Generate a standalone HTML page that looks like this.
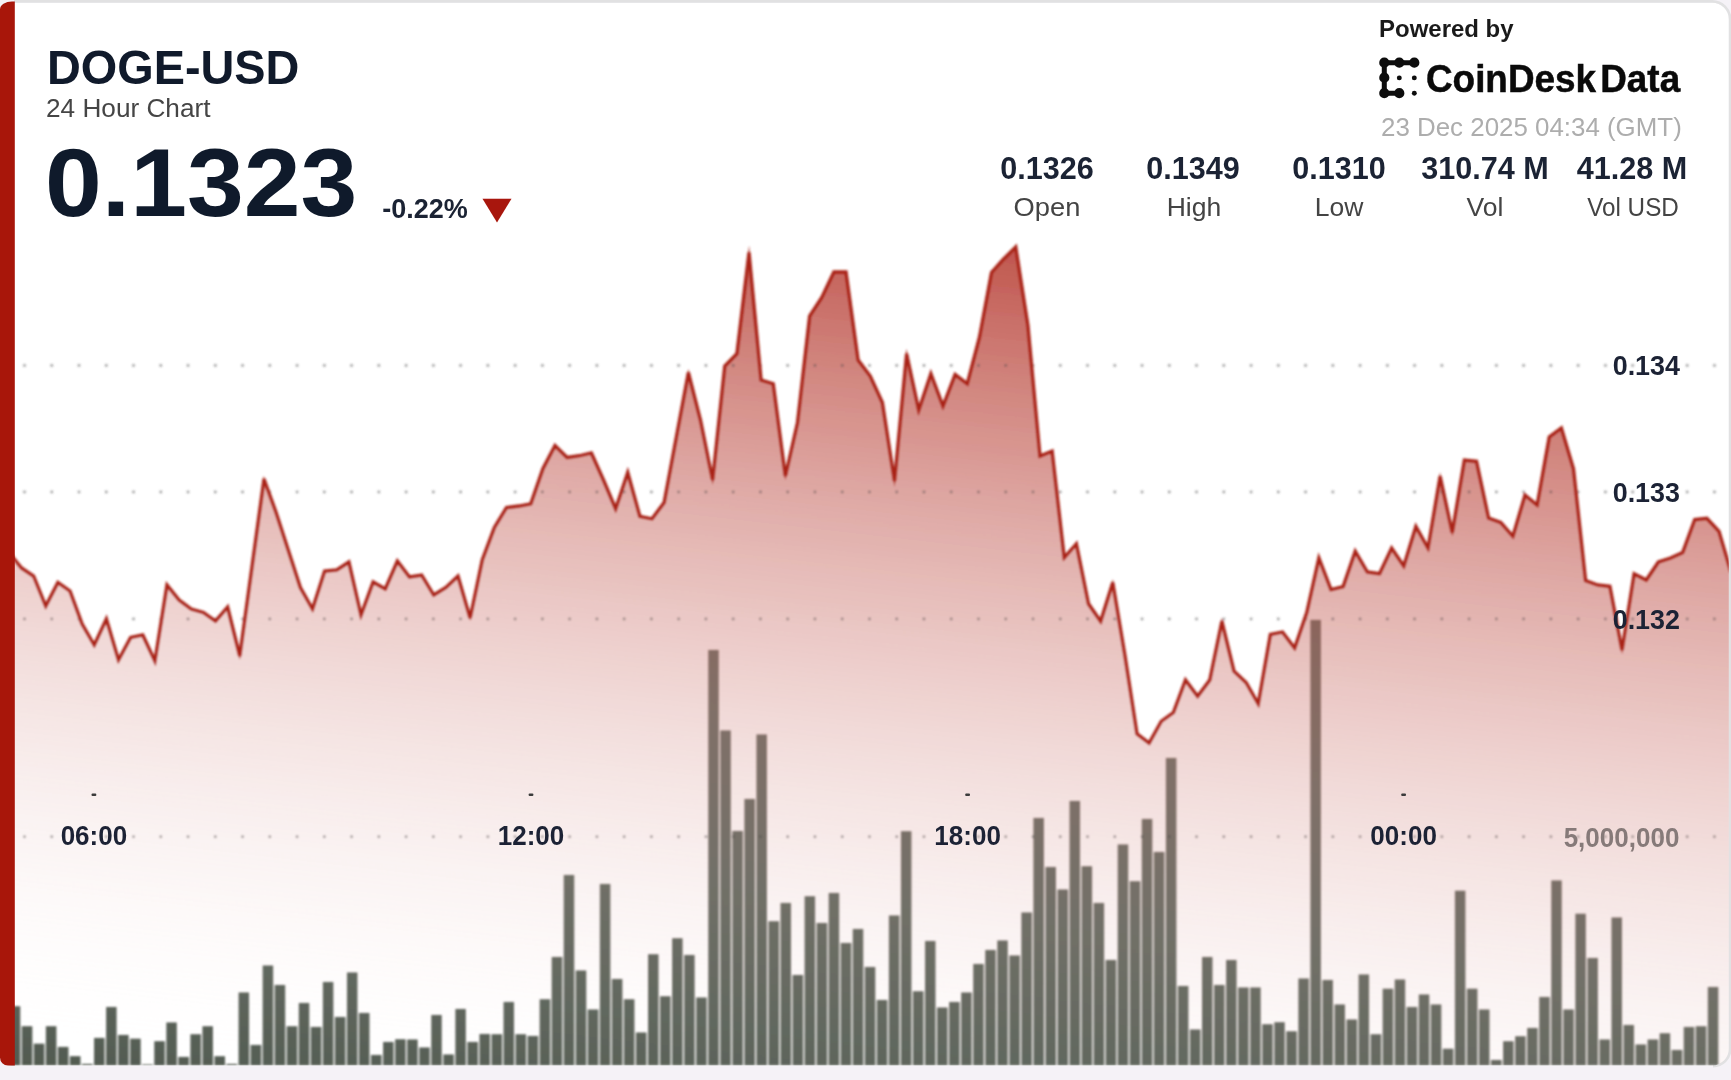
<!DOCTYPE html>
<html><head><meta charset="utf-8"><title>DOGE-USD</title>
<style>
html,body{margin:0;padding:0;}
body{width:1731px;height:1080px;overflow:hidden;background:#f5f2f7;font-family:"Liberation Sans",sans-serif;position:relative;}
#card{position:absolute;left:0;top:2px;width:1731px;height:1078px;filter:blur(0.55px);}
svg{position:absolute;left:0;top:0;}
#chart{filter:url(#bl);}
.t{position:absolute;white-space:nowrap;line-height:1;}
.ax{font-family:"Liberation Sans",sans-serif;font-weight:bold;font-size:27.6px;fill:#1b2334;}
.b{font-weight:bold;}
.stat{position:absolute;width:160px;text-align:center;white-space:nowrap;line-height:1;}
.sv{top:150px;font-weight:bold;font-size:32.2px;color:#1b2334;transform:scaleX(0.95);}
.sl{top:191.8px;font-size:26.5px;color:#444;transform:scaleX(1.0);}
</style></head><body>
<svg width="1731" height="1080" viewBox="0 0 1731 1080">
<defs>
<linearGradient id="ga" gradientUnits="userSpaceOnUse" x1="1000.0" y1="200.0" x2="888.20" y2="1172.14"><stop offset="0.000" stop-color="rgb(168,22,10)" stop-opacity="0.8000"/><stop offset="0.050" stop-color="rgb(172,34,22)" stop-opacity="0.7600"/><stop offset="0.100" stop-color="rgb(177,45,34)" stop-opacity="0.7200"/><stop offset="0.150" stop-color="rgb(181,57,47)" stop-opacity="0.6800"/><stop offset="0.200" stop-color="rgb(185,69,59)" stop-opacity="0.6400"/><stop offset="0.250" stop-color="rgb(190,80,71)" stop-opacity="0.6000"/><stop offset="0.300" stop-color="rgb(194,92,84)" stop-opacity="0.5600"/><stop offset="0.350" stop-color="rgb(198,104,96)" stop-opacity="0.5200"/><stop offset="0.400" stop-color="rgb(203,115,108)" stop-opacity="0.4800"/><stop offset="0.450" stop-color="rgb(207,127,120)" stop-opacity="0.4400"/><stop offset="0.500" stop-color="rgb(212,138,132)" stop-opacity="0.4000"/><stop offset="0.550" stop-color="rgb(216,150,145)" stop-opacity="0.3600"/><stop offset="0.600" stop-color="rgb(220,162,157)" stop-opacity="0.3200"/><stop offset="0.650" stop-color="rgb(225,173,169)" stop-opacity="0.2800"/><stop offset="0.700" stop-color="rgb(229,185,182)" stop-opacity="0.2400"/><stop offset="0.750" stop-color="rgb(233,197,194)" stop-opacity="0.2000"/><stop offset="0.800" stop-color="rgb(238,208,206)" stop-opacity="0.1600"/><stop offset="0.850" stop-color="rgb(242,220,218)" stop-opacity="0.1200"/><stop offset="0.900" stop-color="rgb(246,232,230)" stop-opacity="0.0800"/><stop offset="0.950" stop-color="rgb(251,243,243)" stop-opacity="0.0400"/><stop offset="1.000" stop-color="rgb(255,255,255)" stop-opacity="0.0000"/></linearGradient>
<filter id="bl2" x="0" y="0" width="1731" height="1080" filterUnits="userSpaceOnUse"><feGaussianBlur stdDeviation="0.55"/></filter>
<filter id="bl" x="0" y="0" width="1731" height="1080" filterUnits="userSpaceOnUse"><feGaussianBlur stdDeviation="0.8"/></filter>
<clipPath id="cc"><path d="M8,2.7 L1712,2.7 A16.6,16.6 0 0 1 1728.8,19.5 L1728.8,1049 A16.5,16.5 0 0 1 1712.3,1065.5 L8,1065.5 L0,1057 L0,10 Z"/></clipPath>
</defs>
<path d="M8,2.7 L1712,2.7 A16.6,16.6 0 0 1 1728.8,19.5 L1728.8,1049 A16.5,16.5 0 0 1 1712.3,1065.5 L8,1065.5 L0,1057 L0,10 Z" fill="#fff"/>
<path d="M14,1.35 L1712,1.35 A18,18 0 0 1 1730.15,19.5 L1730.15,1049 A17.2,17.2 0 0 1 1713,1066.2" fill="none" stroke="#e1e1e2" stroke-width="2.7"/>
<g clip-path="url(#cc)"><g id="chart">
<g fill="#50594f"><rect x="9.71" y="1006.15" width="10.6" height="59.35"/><rect x="21.75" y="1026.15" width="10.6" height="39.35"/><rect x="33.79" y="1043.65" width="10.6" height="21.85"/><rect x="45.84" y="1026.15" width="10.6" height="39.35"/><rect x="57.88" y="1046.90" width="10.6" height="18.60"/><rect x="69.92" y="1056.15" width="10.6" height="9.35"/><rect x="81.97" y="1063.90" width="10.6" height="1.60"/><rect x="94.01" y="1037.90" width="10.6" height="27.60"/><rect x="106.05" y="1006.90" width="10.6" height="58.60"/><rect x="118.09" y="1034.90" width="10.6" height="30.60"/><rect x="130.14" y="1038.65" width="10.6" height="26.85"/><rect x="142.18" y="1064.40" width="10.6" height="1.10"/><rect x="154.22" y="1041.15" width="10.6" height="24.35"/><rect x="166.27" y="1022.40" width="10.6" height="43.10"/><rect x="178.31" y="1056.90" width="10.6" height="8.60"/><rect x="190.35" y="1034.15" width="10.6" height="31.35"/><rect x="202.39" y="1026.15" width="10.6" height="39.35"/><rect x="214.44" y="1056.15" width="10.6" height="9.35"/><rect x="226.48" y="1063.90" width="10.6" height="1.60"/><rect x="238.52" y="992.40" width="10.6" height="73.10"/><rect x="250.57" y="1044.90" width="10.6" height="20.60"/><rect x="262.61" y="965.40" width="10.6" height="100.10"/><rect x="274.65" y="984.90" width="10.6" height="80.60"/><rect x="286.70" y="1026.15" width="10.6" height="39.35"/><rect x="298.74" y="1002.90" width="10.6" height="62.60"/><rect x="310.78" y="1026.90" width="10.6" height="38.60"/><rect x="322.82" y="981.90" width="10.6" height="83.60"/><rect x="334.87" y="1016.90" width="10.6" height="48.60"/><rect x="346.91" y="972.40" width="10.6" height="93.10"/><rect x="358.95" y="1012.90" width="10.6" height="52.60"/><rect x="371.00" y="1054.90" width="10.6" height="10.60"/><rect x="383.04" y="1041.90" width="10.6" height="23.60"/><rect x="395.08" y="1039.15" width="10.6" height="26.35"/><rect x="407.13" y="1039.40" width="10.6" height="26.10"/><rect x="419.17" y="1047.40" width="10.6" height="18.10"/><rect x="431.21" y="1014.90" width="10.6" height="50.60"/><rect x="443.25" y="1054.40" width="10.6" height="11.10"/><rect x="455.30" y="1008.90" width="10.6" height="56.60"/><rect x="467.34" y="1041.90" width="10.6" height="23.60"/><rect x="479.38" y="1033.90" width="10.6" height="31.60"/><rect x="491.43" y="1034.15" width="10.6" height="31.35"/><rect x="503.47" y="1001.90" width="10.6" height="63.60"/><rect x="515.51" y="1034.15" width="10.6" height="31.35"/><rect x="527.56" y="1035.90" width="10.6" height="29.60"/><rect x="539.60" y="999.15" width="10.6" height="66.35"/><rect x="551.64" y="956.90" width="10.6" height="108.60"/><rect x="563.68" y="874.90" width="10.6" height="190.60"/><rect x="575.73" y="970.40" width="10.6" height="95.10"/><rect x="587.77" y="1009.40" width="10.6" height="56.10"/><rect x="599.81" y="883.90" width="10.6" height="181.60"/><rect x="611.86" y="978.90" width="10.6" height="86.60"/><rect x="623.90" y="999.15" width="10.6" height="66.35"/><rect x="635.94" y="1032.40" width="10.6" height="33.10"/><rect x="647.99" y="954.15" width="10.6" height="111.35"/><rect x="660.03" y="996.15" width="10.6" height="69.35"/><rect x="672.07" y="938.15" width="10.6" height="127.35"/><rect x="684.12" y="954.90" width="10.6" height="110.60"/><rect x="696.16" y="997.40" width="10.6" height="68.10"/><rect x="708.20" y="649.90" width="10.6" height="415.60"/><rect x="720.24" y="730.40" width="10.6" height="335.10"/><rect x="732.29" y="830.90" width="10.6" height="234.60"/><rect x="744.33" y="798.90" width="10.6" height="266.60"/><rect x="756.37" y="734.40" width="10.6" height="331.10"/><rect x="768.42" y="921.15" width="10.6" height="144.35"/><rect x="780.46" y="902.90" width="10.6" height="162.60"/><rect x="792.50" y="974.90" width="10.6" height="90.60"/><rect x="804.54" y="896.15" width="10.6" height="169.35"/><rect x="816.59" y="922.90" width="10.6" height="142.60"/><rect x="828.63" y="892.90" width="10.6" height="172.60"/><rect x="840.67" y="942.90" width="10.6" height="122.60"/><rect x="852.72" y="928.90" width="10.6" height="136.60"/><rect x="864.76" y="966.90" width="10.6" height="98.60"/><rect x="876.80" y="999.90" width="10.6" height="65.60"/><rect x="888.85" y="915.40" width="10.6" height="150.10"/><rect x="900.89" y="831.15" width="10.6" height="234.35"/><rect x="912.93" y="991.15" width="10.6" height="74.35"/><rect x="924.97" y="940.90" width="10.6" height="124.60"/><rect x="937.02" y="1007.40" width="10.6" height="58.10"/><rect x="949.06" y="1001.90" width="10.6" height="63.60"/><rect x="961.10" y="992.40" width="10.6" height="73.10"/><rect x="973.15" y="963.90" width="10.6" height="101.60"/><rect x="985.19" y="949.90" width="10.6" height="115.60"/><rect x="997.23" y="940.40" width="10.6" height="125.10"/><rect x="1009.28" y="955.40" width="10.6" height="110.10"/><rect x="1021.32" y="912.40" width="10.6" height="153.10"/><rect x="1033.36" y="817.90" width="10.6" height="247.60"/><rect x="1045.40" y="866.90" width="10.6" height="198.60"/><rect x="1057.45" y="889.40" width="10.6" height="176.10"/><rect x="1069.49" y="800.90" width="10.6" height="264.60"/><rect x="1081.53" y="866.15" width="10.6" height="199.35"/><rect x="1093.58" y="902.90" width="10.6" height="162.60"/><rect x="1105.62" y="959.90" width="10.6" height="105.60"/><rect x="1117.66" y="844.40" width="10.6" height="221.10"/><rect x="1129.71" y="881.15" width="10.6" height="184.35"/><rect x="1141.75" y="818.90" width="10.6" height="246.60"/><rect x="1153.79" y="851.90" width="10.6" height="213.60"/><rect x="1165.84" y="757.90" width="10.6" height="307.60"/><rect x="1177.88" y="985.90" width="10.6" height="79.60"/><rect x="1189.92" y="1029.40" width="10.6" height="36.10"/><rect x="1201.96" y="956.90" width="10.6" height="108.60"/><rect x="1214.01" y="984.90" width="10.6" height="80.60"/><rect x="1226.05" y="959.90" width="10.6" height="105.60"/><rect x="1238.09" y="987.40" width="10.6" height="78.10"/><rect x="1250.14" y="987.40" width="10.6" height="78.10"/><rect x="1262.18" y="1024.15" width="10.6" height="41.35"/><rect x="1274.22" y="1022.10" width="10.6" height="43.40"/><rect x="1286.26" y="1031.20" width="10.6" height="34.30"/><rect x="1298.31" y="978.40" width="10.6" height="87.10"/><rect x="1310.35" y="619.90" width="10.6" height="445.60"/><rect x="1322.39" y="979.90" width="10.6" height="85.60"/><rect x="1334.44" y="1004.40" width="10.6" height="61.10"/><rect x="1346.48" y="1019.40" width="10.6" height="46.10"/><rect x="1358.52" y="974.40" width="10.6" height="91.10"/><rect x="1370.57" y="1034.15" width="10.6" height="31.35"/><rect x="1382.61" y="988.65" width="10.6" height="76.85"/><rect x="1394.65" y="979.40" width="10.6" height="86.10"/><rect x="1406.69" y="1006.90" width="10.6" height="58.60"/><rect x="1418.74" y="994.40" width="10.6" height="71.10"/><rect x="1430.78" y="1004.40" width="10.6" height="61.10"/><rect x="1442.82" y="1048.65" width="10.6" height="16.85"/><rect x="1454.87" y="890.65" width="10.6" height="174.85"/><rect x="1466.91" y="988.65" width="10.6" height="76.85"/><rect x="1478.95" y="1009.40" width="10.6" height="56.10"/><rect x="1491.00" y="1059.90" width="10.6" height="5.60"/><rect x="1503.04" y="1041.15" width="10.6" height="24.35"/><rect x="1515.08" y="1036.15" width="10.6" height="29.35"/><rect x="1527.12" y="1027.90" width="10.6" height="37.60"/><rect x="1539.17" y="996.90" width="10.6" height="68.60"/><rect x="1551.21" y="880.40" width="10.6" height="185.10"/><rect x="1563.25" y="1009.40" width="10.6" height="56.10"/><rect x="1575.30" y="913.65" width="10.6" height="151.85"/><rect x="1587.34" y="957.90" width="10.6" height="107.60"/><rect x="1599.38" y="1039.40" width="10.6" height="26.10"/><rect x="1611.43" y="917.40" width="10.6" height="148.10"/><rect x="1623.47" y="1024.90" width="10.6" height="40.60"/><rect x="1635.51" y="1044.40" width="10.6" height="21.10"/><rect x="1647.55" y="1039.40" width="10.6" height="26.10"/><rect x="1659.60" y="1033.15" width="10.6" height="32.35"/><rect x="1671.64" y="1049.90" width="10.6" height="15.60"/><rect x="1683.68" y="1026.90" width="10.6" height="38.60"/><rect x="1695.73" y="1026.15" width="10.6" height="39.35"/><rect x="1707.77" y="986.90" width="10.6" height="78.60"/></g>
<path d="M9.38,553.00 L21.50,568.00 L33.62,576.00 L45.75,606.00 L57.88,582.50 L70.00,591.00 L82.12,624.00 L94.25,645.00 L106.38,619.00 L118.50,660.00 L130.62,637.50 L142.75,635.00 L154.88,661.00 L167.00,585.00 L179.12,600.00 L191.25,609.00 L203.38,612.50 L215.50,621.00 L227.62,607.00 L239.75,656.00 L251.88,567.50 L264.00,479.00 L276.12,512.50 L288.25,550.00 L300.38,587.50 L312.50,609.00 L324.62,571.00 L336.75,570.00 L348.88,562.00 L361.00,615.00 L373.12,582.00 L385.25,589.00 L397.38,561.00 L409.50,577.00 L421.62,575.00 L433.75,595.00 L445.88,587.50 L458.00,576.00 L470.12,618.00 L482.25,560.00 L494.38,527.50 L506.50,507.50 L518.62,506.00 L530.75,503.75 L542.88,468.75 L555.00,445.50 L567.12,457.50 L579.25,455.75 L591.38,453.00 L603.50,480.00 L615.62,508.75 L627.75,472.50 L639.88,516.25 L652.00,518.75 L664.12,502.50 L676.25,437.50 L688.38,372.50 L700.50,420.00 L712.62,480.00 L724.75,366.00 L736.88,353.75 L749.00,252.50 L761.12,380.00 L773.25,383.75 L785.38,476.00 L797.50,422.50 L809.62,316.00 L821.75,297.50 L833.88,272.00 L846.00,272.00 L858.12,360.00 L870.25,376.00 L882.38,402.50 L894.50,481.00 L906.62,353.75 L918.75,410.00 L930.88,373.75 L943.00,406.00 L955.12,374.50 L967.25,383.75 L979.38,337.50 L991.50,272.50 L1003.62,259.00 L1015.75,247.00 L1027.88,325.00 L1040.00,456.00 L1052.12,451.00 L1064.25,557.50 L1076.38,543.75 L1088.50,603.75 L1100.62,621.25 L1112.75,582.50 L1124.88,655.00 L1137.00,733.75 L1149.12,743.00 L1161.25,721.25 L1173.38,712.50 L1185.50,680.00 L1197.62,696.25 L1209.75,680.00 L1221.88,621.25 L1234.00,671.25 L1246.12,682.50 L1258.25,703.75 L1270.38,634.50 L1282.50,632.00 L1294.62,648.00 L1306.75,612.50 L1318.88,558.00 L1331.00,589.50 L1343.12,586.50 L1355.25,551.25 L1367.38,572.00 L1379.50,573.75 L1391.62,548.00 L1403.75,566.00 L1415.88,526.50 L1428.00,548.00 L1440.12,476.25 L1452.25,532.50 L1464.38,460.00 L1476.50,461.25 L1488.62,518.00 L1500.75,522.50 L1512.88,536.25 L1525.00,495.00 L1537.12,505.00 L1549.25,437.00 L1561.38,428.00 L1573.50,468.75 L1585.62,580.50 L1597.75,585.00 L1609.88,586.25 L1622.00,650.00 L1634.12,573.75 L1646.25,580.00 L1658.38,562.00 L1670.50,558.00 L1682.62,552.50 L1694.75,519.50 L1706.88,518.25 L1719.00,531.25 L1731.12,572.50 L1731.12,1065.5 L9.38,1065.5 Z" fill="url(#ga)"/>
<g fill="#4a4a4a" fill-opacity="0.5"><circle cx="24.50" cy="365.5" r="1.45"/><circle cx="51.76" cy="365.5" r="1.45"/><circle cx="79.01" cy="365.5" r="1.45"/><circle cx="106.27" cy="365.5" r="1.45"/><circle cx="133.53" cy="365.5" r="1.45"/><circle cx="160.78" cy="365.5" r="1.45"/><circle cx="188.04" cy="365.5" r="1.45"/><circle cx="215.30" cy="365.5" r="1.45"/><circle cx="242.56" cy="365.5" r="1.45"/><circle cx="269.81" cy="365.5" r="1.45"/><circle cx="297.07" cy="365.5" r="1.45"/><circle cx="324.33" cy="365.5" r="1.45"/><circle cx="351.58" cy="365.5" r="1.45"/><circle cx="378.84" cy="365.5" r="1.45"/><circle cx="406.10" cy="365.5" r="1.45"/><circle cx="433.36" cy="365.5" r="1.45"/><circle cx="460.61" cy="365.5" r="1.45"/><circle cx="487.87" cy="365.5" r="1.45"/><circle cx="515.13" cy="365.5" r="1.45"/><circle cx="542.38" cy="365.5" r="1.45"/><circle cx="569.64" cy="365.5" r="1.45"/><circle cx="596.90" cy="365.5" r="1.45"/><circle cx="624.15" cy="365.5" r="1.45"/><circle cx="651.41" cy="365.5" r="1.45"/><circle cx="678.67" cy="365.5" r="1.45"/><circle cx="705.93" cy="365.5" r="1.45"/><circle cx="733.18" cy="365.5" r="1.45"/><circle cx="760.44" cy="365.5" r="1.45"/><circle cx="787.70" cy="365.5" r="1.45"/><circle cx="814.95" cy="365.5" r="1.45"/><circle cx="842.21" cy="365.5" r="1.45"/><circle cx="869.47" cy="365.5" r="1.45"/><circle cx="896.72" cy="365.5" r="1.45"/><circle cx="923.98" cy="365.5" r="1.45"/><circle cx="951.24" cy="365.5" r="1.45"/><circle cx="978.50" cy="365.5" r="1.45"/><circle cx="1005.75" cy="365.5" r="1.45"/><circle cx="1033.01" cy="365.5" r="1.45"/><circle cx="1060.27" cy="365.5" r="1.45"/><circle cx="1087.52" cy="365.5" r="1.45"/><circle cx="1114.78" cy="365.5" r="1.45"/><circle cx="1142.04" cy="365.5" r="1.45"/><circle cx="1169.29" cy="365.5" r="1.45"/><circle cx="1196.55" cy="365.5" r="1.45"/><circle cx="1223.81" cy="365.5" r="1.45"/><circle cx="1251.07" cy="365.5" r="1.45"/><circle cx="1278.32" cy="365.5" r="1.45"/><circle cx="1305.58" cy="365.5" r="1.45"/><circle cx="1332.84" cy="365.5" r="1.45"/><circle cx="1360.09" cy="365.5" r="1.45"/><circle cx="1387.35" cy="365.5" r="1.45"/><circle cx="1414.61" cy="365.5" r="1.45"/><circle cx="1441.86" cy="365.5" r="1.45"/><circle cx="1469.12" cy="365.5" r="1.45"/><circle cx="1496.38" cy="365.5" r="1.45"/><circle cx="1523.63" cy="365.5" r="1.45"/><circle cx="1550.89" cy="365.5" r="1.45"/><circle cx="1578.15" cy="365.5" r="1.45"/><circle cx="1605.41" cy="365.5" r="1.45"/><circle cx="1632.66" cy="365.5" r="1.45"/><circle cx="1659.92" cy="365.5" r="1.45"/><circle cx="1687.18" cy="365.5" r="1.45"/><circle cx="1714.43" cy="365.5" r="1.45"/><circle cx="24.50" cy="492" r="1.45"/><circle cx="51.76" cy="492" r="1.45"/><circle cx="79.01" cy="492" r="1.45"/><circle cx="106.27" cy="492" r="1.45"/><circle cx="133.53" cy="492" r="1.45"/><circle cx="160.78" cy="492" r="1.45"/><circle cx="188.04" cy="492" r="1.45"/><circle cx="215.30" cy="492" r="1.45"/><circle cx="242.56" cy="492" r="1.45"/><circle cx="269.81" cy="492" r="1.45"/><circle cx="297.07" cy="492" r="1.45"/><circle cx="324.33" cy="492" r="1.45"/><circle cx="351.58" cy="492" r="1.45"/><circle cx="378.84" cy="492" r="1.45"/><circle cx="406.10" cy="492" r="1.45"/><circle cx="433.36" cy="492" r="1.45"/><circle cx="460.61" cy="492" r="1.45"/><circle cx="487.87" cy="492" r="1.45"/><circle cx="515.13" cy="492" r="1.45"/><circle cx="542.38" cy="492" r="1.45"/><circle cx="569.64" cy="492" r="1.45"/><circle cx="596.90" cy="492" r="1.45"/><circle cx="624.15" cy="492" r="1.45"/><circle cx="651.41" cy="492" r="1.45"/><circle cx="678.67" cy="492" r="1.45"/><circle cx="705.93" cy="492" r="1.45"/><circle cx="733.18" cy="492" r="1.45"/><circle cx="760.44" cy="492" r="1.45"/><circle cx="787.70" cy="492" r="1.45"/><circle cx="814.95" cy="492" r="1.45"/><circle cx="842.21" cy="492" r="1.45"/><circle cx="869.47" cy="492" r="1.45"/><circle cx="896.72" cy="492" r="1.45"/><circle cx="923.98" cy="492" r="1.45"/><circle cx="951.24" cy="492" r="1.45"/><circle cx="978.50" cy="492" r="1.45"/><circle cx="1005.75" cy="492" r="1.45"/><circle cx="1033.01" cy="492" r="1.45"/><circle cx="1060.27" cy="492" r="1.45"/><circle cx="1087.52" cy="492" r="1.45"/><circle cx="1114.78" cy="492" r="1.45"/><circle cx="1142.04" cy="492" r="1.45"/><circle cx="1169.29" cy="492" r="1.45"/><circle cx="1196.55" cy="492" r="1.45"/><circle cx="1223.81" cy="492" r="1.45"/><circle cx="1251.07" cy="492" r="1.45"/><circle cx="1278.32" cy="492" r="1.45"/><circle cx="1305.58" cy="492" r="1.45"/><circle cx="1332.84" cy="492" r="1.45"/><circle cx="1360.09" cy="492" r="1.45"/><circle cx="1387.35" cy="492" r="1.45"/><circle cx="1414.61" cy="492" r="1.45"/><circle cx="1441.86" cy="492" r="1.45"/><circle cx="1469.12" cy="492" r="1.45"/><circle cx="1496.38" cy="492" r="1.45"/><circle cx="1523.63" cy="492" r="1.45"/><circle cx="1550.89" cy="492" r="1.45"/><circle cx="1578.15" cy="492" r="1.45"/><circle cx="1605.41" cy="492" r="1.45"/><circle cx="1632.66" cy="492" r="1.45"/><circle cx="1659.92" cy="492" r="1.45"/><circle cx="1687.18" cy="492" r="1.45"/><circle cx="1714.43" cy="492" r="1.45"/><circle cx="24.50" cy="619" r="1.45"/><circle cx="51.76" cy="619" r="1.45"/><circle cx="79.01" cy="619" r="1.45"/><circle cx="106.27" cy="619" r="1.45"/><circle cx="133.53" cy="619" r="1.45"/><circle cx="160.78" cy="619" r="1.45"/><circle cx="188.04" cy="619" r="1.45"/><circle cx="215.30" cy="619" r="1.45"/><circle cx="242.56" cy="619" r="1.45"/><circle cx="269.81" cy="619" r="1.45"/><circle cx="297.07" cy="619" r="1.45"/><circle cx="324.33" cy="619" r="1.45"/><circle cx="351.58" cy="619" r="1.45"/><circle cx="378.84" cy="619" r="1.45"/><circle cx="406.10" cy="619" r="1.45"/><circle cx="433.36" cy="619" r="1.45"/><circle cx="460.61" cy="619" r="1.45"/><circle cx="487.87" cy="619" r="1.45"/><circle cx="515.13" cy="619" r="1.45"/><circle cx="542.38" cy="619" r="1.45"/><circle cx="569.64" cy="619" r="1.45"/><circle cx="596.90" cy="619" r="1.45"/><circle cx="624.15" cy="619" r="1.45"/><circle cx="651.41" cy="619" r="1.45"/><circle cx="678.67" cy="619" r="1.45"/><circle cx="705.93" cy="619" r="1.45"/><circle cx="733.18" cy="619" r="1.45"/><circle cx="760.44" cy="619" r="1.45"/><circle cx="787.70" cy="619" r="1.45"/><circle cx="814.95" cy="619" r="1.45"/><circle cx="842.21" cy="619" r="1.45"/><circle cx="869.47" cy="619" r="1.45"/><circle cx="896.72" cy="619" r="1.45"/><circle cx="923.98" cy="619" r="1.45"/><circle cx="951.24" cy="619" r="1.45"/><circle cx="978.50" cy="619" r="1.45"/><circle cx="1005.75" cy="619" r="1.45"/><circle cx="1033.01" cy="619" r="1.45"/><circle cx="1060.27" cy="619" r="1.45"/><circle cx="1087.52" cy="619" r="1.45"/><circle cx="1114.78" cy="619" r="1.45"/><circle cx="1142.04" cy="619" r="1.45"/><circle cx="1169.29" cy="619" r="1.45"/><circle cx="1196.55" cy="619" r="1.45"/><circle cx="1223.81" cy="619" r="1.45"/><circle cx="1251.07" cy="619" r="1.45"/><circle cx="1278.32" cy="619" r="1.45"/><circle cx="1305.58" cy="619" r="1.45"/><circle cx="1332.84" cy="619" r="1.45"/><circle cx="1360.09" cy="619" r="1.45"/><circle cx="1387.35" cy="619" r="1.45"/><circle cx="1414.61" cy="619" r="1.45"/><circle cx="1441.86" cy="619" r="1.45"/><circle cx="1469.12" cy="619" r="1.45"/><circle cx="1496.38" cy="619" r="1.45"/><circle cx="1523.63" cy="619" r="1.45"/><circle cx="1550.89" cy="619" r="1.45"/><circle cx="1578.15" cy="619" r="1.45"/><circle cx="1605.41" cy="619" r="1.45"/><circle cx="1632.66" cy="619" r="1.45"/><circle cx="1659.92" cy="619" r="1.45"/><circle cx="1687.18" cy="619" r="1.45"/><circle cx="1714.43" cy="619" r="1.45"/><circle cx="24.50" cy="836.7" r="1.45"/><circle cx="51.76" cy="836.7" r="1.45"/><circle cx="79.01" cy="836.7" r="1.45"/><circle cx="106.27" cy="836.7" r="1.45"/><circle cx="133.53" cy="836.7" r="1.45"/><circle cx="160.78" cy="836.7" r="1.45"/><circle cx="188.04" cy="836.7" r="1.45"/><circle cx="215.30" cy="836.7" r="1.45"/><circle cx="242.56" cy="836.7" r="1.45"/><circle cx="269.81" cy="836.7" r="1.45"/><circle cx="297.07" cy="836.7" r="1.45"/><circle cx="324.33" cy="836.7" r="1.45"/><circle cx="351.58" cy="836.7" r="1.45"/><circle cx="378.84" cy="836.7" r="1.45"/><circle cx="406.10" cy="836.7" r="1.45"/><circle cx="433.36" cy="836.7" r="1.45"/><circle cx="460.61" cy="836.7" r="1.45"/><circle cx="487.87" cy="836.7" r="1.45"/><circle cx="515.13" cy="836.7" r="1.45"/><circle cx="542.38" cy="836.7" r="1.45"/><circle cx="569.64" cy="836.7" r="1.45"/><circle cx="596.90" cy="836.7" r="1.45"/><circle cx="624.15" cy="836.7" r="1.45"/><circle cx="651.41" cy="836.7" r="1.45"/><circle cx="678.67" cy="836.7" r="1.45"/><circle cx="705.93" cy="836.7" r="1.45"/><circle cx="733.18" cy="836.7" r="1.45"/><circle cx="760.44" cy="836.7" r="1.45"/><circle cx="787.70" cy="836.7" r="1.45"/><circle cx="814.95" cy="836.7" r="1.45"/><circle cx="842.21" cy="836.7" r="1.45"/><circle cx="869.47" cy="836.7" r="1.45"/><circle cx="896.72" cy="836.7" r="1.45"/><circle cx="923.98" cy="836.7" r="1.45"/><circle cx="951.24" cy="836.7" r="1.45"/><circle cx="978.50" cy="836.7" r="1.45"/><circle cx="1005.75" cy="836.7" r="1.45"/><circle cx="1033.01" cy="836.7" r="1.45"/><circle cx="1060.27" cy="836.7" r="1.45"/><circle cx="1087.52" cy="836.7" r="1.45"/><circle cx="1114.78" cy="836.7" r="1.45"/><circle cx="1142.04" cy="836.7" r="1.45"/><circle cx="1169.29" cy="836.7" r="1.45"/><circle cx="1196.55" cy="836.7" r="1.45"/><circle cx="1223.81" cy="836.7" r="1.45"/><circle cx="1251.07" cy="836.7" r="1.45"/><circle cx="1278.32" cy="836.7" r="1.45"/><circle cx="1305.58" cy="836.7" r="1.45"/><circle cx="1332.84" cy="836.7" r="1.45"/><circle cx="1360.09" cy="836.7" r="1.45"/><circle cx="1387.35" cy="836.7" r="1.45"/><circle cx="1414.61" cy="836.7" r="1.45"/><circle cx="1441.86" cy="836.7" r="1.45"/><circle cx="1469.12" cy="836.7" r="1.45"/><circle cx="1496.38" cy="836.7" r="1.45"/><circle cx="1523.63" cy="836.7" r="1.45"/><circle cx="1550.89" cy="836.7" r="1.45"/><circle cx="1578.15" cy="836.7" r="1.45"/><circle cx="1605.41" cy="836.7" r="1.45"/><circle cx="1632.66" cy="836.7" r="1.45"/><circle cx="1659.92" cy="836.7" r="1.45"/><circle cx="1687.18" cy="836.7" r="1.45"/><circle cx="1714.43" cy="836.7" r="1.45"/></g>
<path d="M9.38,553.00 L21.50,568.00 L33.62,576.00 L45.75,606.00 L57.88,582.50 L70.00,591.00 L82.12,624.00 L94.25,645.00 L106.38,619.00 L118.50,660.00 L130.62,637.50 L142.75,635.00 L154.88,661.00 L167.00,585.00 L179.12,600.00 L191.25,609.00 L203.38,612.50 L215.50,621.00 L227.62,607.00 L239.75,656.00 L251.88,567.50 L264.00,479.00 L276.12,512.50 L288.25,550.00 L300.38,587.50 L312.50,609.00 L324.62,571.00 L336.75,570.00 L348.88,562.00 L361.00,615.00 L373.12,582.00 L385.25,589.00 L397.38,561.00 L409.50,577.00 L421.62,575.00 L433.75,595.00 L445.88,587.50 L458.00,576.00 L470.12,618.00 L482.25,560.00 L494.38,527.50 L506.50,507.50 L518.62,506.00 L530.75,503.75 L542.88,468.75 L555.00,445.50 L567.12,457.50 L579.25,455.75 L591.38,453.00 L603.50,480.00 L615.62,508.75 L627.75,472.50 L639.88,516.25 L652.00,518.75 L664.12,502.50 L676.25,437.50 L688.38,372.50 L700.50,420.00 L712.62,480.00 L724.75,366.00 L736.88,353.75 L749.00,252.50 L761.12,380.00 L773.25,383.75 L785.38,476.00 L797.50,422.50 L809.62,316.00 L821.75,297.50 L833.88,272.00 L846.00,272.00 L858.12,360.00 L870.25,376.00 L882.38,402.50 L894.50,481.00 L906.62,353.75 L918.75,410.00 L930.88,373.75 L943.00,406.00 L955.12,374.50 L967.25,383.75 L979.38,337.50 L991.50,272.50 L1003.62,259.00 L1015.75,247.00 L1027.88,325.00 L1040.00,456.00 L1052.12,451.00 L1064.25,557.50 L1076.38,543.75 L1088.50,603.75 L1100.62,621.25 L1112.75,582.50 L1124.88,655.00 L1137.00,733.75 L1149.12,743.00 L1161.25,721.25 L1173.38,712.50 L1185.50,680.00 L1197.62,696.25 L1209.75,680.00 L1221.88,621.25 L1234.00,671.25 L1246.12,682.50 L1258.25,703.75 L1270.38,634.50 L1282.50,632.00 L1294.62,648.00 L1306.75,612.50 L1318.88,558.00 L1331.00,589.50 L1343.12,586.50 L1355.25,551.25 L1367.38,572.00 L1379.50,573.75 L1391.62,548.00 L1403.75,566.00 L1415.88,526.50 L1428.00,548.00 L1440.12,476.25 L1452.25,532.50 L1464.38,460.00 L1476.50,461.25 L1488.62,518.00 L1500.75,522.50 L1512.88,536.25 L1525.00,495.00 L1537.12,505.00 L1549.25,437.00 L1561.38,428.00 L1573.50,468.75 L1585.62,580.50 L1597.75,585.00 L1609.88,586.25 L1622.00,650.00 L1634.12,573.75 L1646.25,580.00 L1658.38,562.00 L1670.50,558.00 L1682.62,552.50 L1694.75,519.50 L1706.88,518.25 L1719.00,531.25 L1731.12,572.50" fill="none" stroke="#a92216" stroke-width="3.3" stroke-linejoin="miter" stroke-miterlimit="4"/>
<path d="M9.38,553.00 L21.50,568.00 L33.62,576.00 L45.75,606.00 L57.88,582.50 L70.00,591.00 L82.12,624.00 L94.25,645.00 L106.38,619.00 L118.50,660.00 L130.62,637.50 L142.75,635.00 L154.88,661.00 L167.00,585.00 L179.12,600.00 L191.25,609.00 L203.38,612.50 L215.50,621.00 L227.62,607.00 L239.75,656.00 L251.88,567.50 L264.00,479.00 L276.12,512.50 L288.25,550.00 L300.38,587.50 L312.50,609.00 L324.62,571.00 L336.75,570.00 L348.88,562.00 L361.00,615.00 L373.12,582.00 L385.25,589.00 L397.38,561.00 L409.50,577.00 L421.62,575.00 L433.75,595.00 L445.88,587.50 L458.00,576.00 L470.12,618.00 L482.25,560.00 L494.38,527.50 L506.50,507.50 L518.62,506.00 L530.75,503.75 L542.88,468.75 L555.00,445.50 L567.12,457.50 L579.25,455.75 L591.38,453.00 L603.50,480.00 L615.62,508.75 L627.75,472.50 L639.88,516.25 L652.00,518.75 L664.12,502.50 L676.25,437.50 L688.38,372.50 L700.50,420.00 L712.62,480.00 L724.75,366.00 L736.88,353.75 L749.00,252.50 L761.12,380.00 L773.25,383.75 L785.38,476.00 L797.50,422.50 L809.62,316.00 L821.75,297.50 L833.88,272.00 L846.00,272.00 L858.12,360.00 L870.25,376.00 L882.38,402.50 L894.50,481.00 L906.62,353.75 L918.75,410.00 L930.88,373.75 L943.00,406.00 L955.12,374.50 L967.25,383.75 L979.38,337.50 L991.50,272.50 L1003.62,259.00 L1015.75,247.00 L1027.88,325.00 L1040.00,456.00 L1052.12,451.00 L1064.25,557.50 L1076.38,543.75 L1088.50,603.75 L1100.62,621.25 L1112.75,582.50 L1124.88,655.00 L1137.00,733.75 L1149.12,743.00 L1161.25,721.25 L1173.38,712.50 L1185.50,680.00 L1197.62,696.25 L1209.75,680.00 L1221.88,621.25 L1234.00,671.25 L1246.12,682.50 L1258.25,703.75 L1270.38,634.50 L1282.50,632.00 L1294.62,648.00 L1306.75,612.50 L1318.88,558.00 L1331.00,589.50 L1343.12,586.50 L1355.25,551.25 L1367.38,572.00 L1379.50,573.75 L1391.62,548.00 L1403.75,566.00 L1415.88,526.50 L1428.00,548.00 L1440.12,476.25 L1452.25,532.50 L1464.38,460.00 L1476.50,461.25 L1488.62,518.00 L1500.75,522.50 L1512.88,536.25 L1525.00,495.00 L1537.12,505.00 L1549.25,437.00 L1561.38,428.00 L1573.50,468.75 L1585.62,580.50 L1597.75,585.00 L1609.88,586.25 L1622.00,650.00 L1634.12,573.75 L1646.25,580.00 L1658.38,562.00 L1670.50,558.00 L1682.62,552.50 L1694.75,519.50 L1706.88,518.25 L1719.00,531.25 L1731.12,572.50" fill="none" stroke="#a92216" stroke-width="1.5" stroke-linejoin="miter" stroke-miterlimit="40"/>
</g></g>
<path d="M0,9.5 A12,8 0 0 1 12,1.5 L14.8,1.5 L14.8,1065.5 L8,1065.5 A8,8 0 0 1 0,1057.5 Z" fill="#a8160a"/>
<g filter="url(#bl2)">
<rect x="91.5" y="793.4" width="4.8" height="2.5" rx="1" fill="#3a3a3a"/><rect x="528.6" y="793.4" width="4.8" height="2.5" rx="1" fill="#3a3a3a"/><rect x="965.2" y="793.4" width="4.8" height="2.5" rx="1" fill="#3a3a3a"/><rect x="1401.2" y="793.4" width="4.8" height="2.5" rx="1" fill="#3a3a3a"/>
<text transform="translate(93.9,845.2) scale(0.943,1)" text-anchor="middle" class="ax">06:00</text><text transform="translate(531,845.2) scale(0.943,1)" text-anchor="middle" class="ax">12:00</text><text transform="translate(967.6,845.2) scale(0.943,1)" text-anchor="middle" class="ax">18:00</text><text transform="translate(1403.6,845.2) scale(0.943,1)" text-anchor="middle" class="ax">00:00</text>
<text transform="translate(1680,375.4) scale(0.975,1)" text-anchor="end" class="ax">0.134</text><text transform="translate(1680,502) scale(0.975,1)" text-anchor="end" class="ax">0.133</text><text transform="translate(1680,629) scale(0.975,1)" text-anchor="end" class="ax">0.132</text>
<text transform="translate(1679.4,846.6) scale(0.943,1)" text-anchor="end" class="ax" style="fill:#867a79">5,000,000</text>
<g transform="translate(1384.3,62.7)" fill="#0a0a0a" stroke="#0a0a0a" stroke-width="5" stroke-linecap="round">
<path d="M30,0 L0,0 L0,30.5 L15,30.5" fill="none"/>
<circle cx="0" cy="0" r="2.6"/><circle cx="15" cy="0" r="2.6"/><circle cx="30" cy="0" r="2.6"/>
<circle cx="0" cy="15" r="2.6"/><circle cx="0" cy="30.5" r="2.6"/><circle cx="15" cy="30.5" r="2.6"/>
<g stroke="none"><circle cx="15" cy="15.2" r="2.45"/><circle cx="30" cy="15.2" r="2.45"/><circle cx="30" cy="30.5" r="2.45"/></g>
</g>
<path d="M482.5,198.8 L511.5,198.8 L497,222.5 Z" fill="#a8160a"/>
</g>
</svg>
<div id="card">
<div class="t b" style="left:46.5px;top:41.7px;font-size:47.7px;color:#101a2b;transform-origin:left top;transform:scaleX(0.982);">DOGE-USD</div>
<div class="t" style="left:46px;top:92.5px;font-size:26.2px;color:#454545;">24 Hour Chart</div>
<div class="t b" id="price" style="left:45.3px;top:134px;font-size:95.5px;color:#0f1a2b;transform-origin:left top;transform:scaleX(1.069);">0.1323</div>
<div class="t b" style="left:382.3px;top:194.3px;font-size:27px;color:#1b2334;transform-origin:left top;transform:scaleX(1.0);">-0.22%</div>
<div class="t b" style="left:1378.5px;top:14.5px;font-size:24.6px;color:#1a1a1a;transform-origin:left top;transform:scaleX(0.975);">Powered by</div>
<div class="t b" id="logo" style="left:1426px;top:56.5px;font-size:39px;color:#0a0a0a;-webkit-text-stroke:0.5px #0a0a0a;transform-origin:left top;transform:scaleX(0.945);">CoinDesk<span style="margin-left:4.5px">Data</span></div>
<div class="t" style="left:1381px;top:113px;font-size:25.9px;color:#adadad;">23 Dec 2025 04:34 (GMT)</div>
<div class="stat sv" style="left:966.5px;">0.1326</div><div class="stat sl" style="left:967.4px;transform:scaleX(1.03);">Open</div>
<div class="stat sv" style="left:1112.5px;">0.1349</div><div class="stat sl" style="left:1114px;">High</div>
<div class="stat sv" style="left:1259px;">0.1310</div><div class="stat sl" style="left:1259px;">Low</div>
<div class="stat sv" style="left:1404.5px;">310.74 M</div><div class="stat sl" style="left:1405px;">Vol</div>
<div class="stat sv" style="left:1552px;">41.28 M</div><div class="stat sl" style="left:1552.6px;transform:scaleX(0.915);">Vol USD</div>
</div>
</body></html>
